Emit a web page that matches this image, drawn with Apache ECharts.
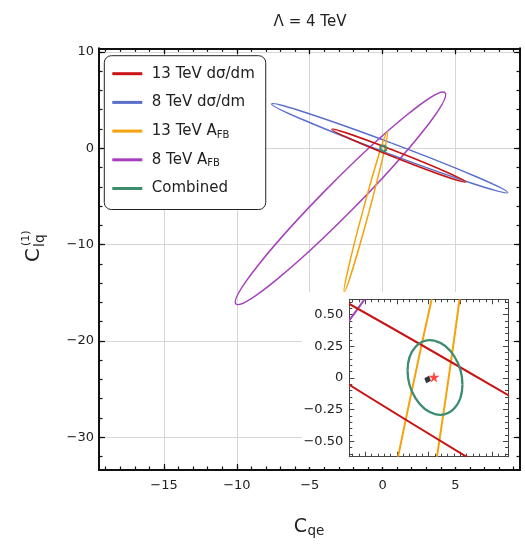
<!DOCTYPE html>
<html><head><meta charset="utf-8">
<script src="https://cdn.jsdelivr.net/npm/echarts@6.0.0/dist/echarts.min.js"></script>
<style>html,body{margin:0;padding:0;background:#fff;}#chart{width:525px;height:549px;}</style>
</head><body><div id="chart"></div>
<script>
// ---- data ----
const seriesNames = ['13 TeV dσ/dm', '8 TeV dσ/dm', '13 TeV AFB', '8 TeV AFB', 'Combined'];
const seriesColors = ['#c81414', '#5a6fcc', '#f5a20f', '#a53fbb', '#3d8c6e'];
// each ellipse: [centre x, centre y, semi-axis u (x, y), conjugate semi-axis v (x, y)] in data units
const ell13Dsdm = [1.105, -0.763, 4.598, -2.736, 0.0774, 0.2975];
const ell8Dsdm = [0.49, 0.0, 8.10, -4.605, 0.133, 0.535];
const ell13Afb = [-1.15, -6.59, 1.483, 8.318, 0.205, -0.083];
const ell8Afb = [-2.89, -5.20, 7.172, 10.971, 0.7955, -1.190];
const ellCombined = [0.05, 0.003, 0.2161, -0.0546, 0.0, 0.2888];
const bestFit = [[0.042, 0.006]];
const smPoint = [[-0.008, -0.013]];
const mainXMajor = [-15, -10, -5, 0, 5];
const mainXMinor = [-19,-18,-17,-16,-15,-14,-13,-12,-11,-10,-9,-8,-7,-6,-5,-4,-3,-2,-1,0,1,2,3,4,5,6,7,8,9];
const mainYMajor = [-30, -20, -10, 0, 10];
const mainYMinor = [-32,-30,-28,-26,-24,-22,-20,-18,-16,-14,-12,-10,-8,-6,-4,-2,0,2,4,6,8,10];
const insetMajor = [-0.5, -0.25, 0, 0.25, 0.5];
const insetMinor = [-0.6,-0.55,-0.5,-0.45,-0.4,-0.35,-0.3,-0.25,-0.2,-0.15,-0.1,-0.05,0,0.05,0.1,0.15,0.2,0.25,0.3,0.35,0.4,0.45,0.5,0.55,0.6];

// ---- rendering ----
const FONT = 'DejaVu Sans';
const minusFmt = v => (v < 0 ? '\u2212' : '') + Math.abs(v);
const insetFmt = v => v === 0 ? '0' : (v < 0 ? '\u2212' : '') + Math.abs(v).toFixed(2);

function mkAxis(grid, pos, min, max, ticks, len, opt) {
  opt = opt || {};
  return {
    type: 'value', gridIndex: grid, position: pos, min: min, max: max, z: opt.z || 0,
    axisLine: { show: !!opt.line, onZero: false, lineStyle: { color: opt.lineColor || '#111', width: opt.lineWidth || 2 } },
    axisTick: { show: true, inside: true, length: len, customValues: ticks, lineStyle: { color: opt.tickColor || '#111', width: opt.tickWidth || 1.2 } },
    axisLabel: opt.labels ? { show: true, customValues: ticks, formatter: opt.fmt, margin: opt.margin, fontSize: 13, color: '#222', fontFamily: FONT } : { show: false },
    splitLine: opt.split ? { show: true, lineStyle: { color: '#d6d6d6', width: 1 } } : { show: false }
  };
}

const XMIN = -19.46, XMAX = 9.43, YMIN = -33.41, YMAX = 10.38;
const IXMIN = -0.625, IXMAX = 0.625, IYMIN = -0.622, IYMAX = 0.62;

const xAxes = [
  mkAxis(0, 'bottom', XMIN, XMAX, mainXMajor, 6, { line: true, labels: true, fmt: minusFmt, margin: 9, split: true }),
  mkAxis(0, 'bottom', XMIN, XMAX, mainXMinor, 3.5, {}),
  mkAxis(0, 'top', XMIN, XMAX, mainXMajor, 6, { line: true }),
  mkAxis(0, 'top', XMIN, XMAX, mainXMinor, 3.5, {}),
  mkAxis(1, 'bottom', IXMIN, IXMAX, insetMajor, 5, { line: true, lineColor: '#444', lineWidth: 1, tickColor: '#444', tickWidth: 1, z: 60 }),
  mkAxis(1, 'bottom', IXMIN, IXMAX, insetMinor, 3, { tickColor: '#444', tickWidth: 1, z: 60 }),
  mkAxis(1, 'top', IXMIN, IXMAX, insetMajor, 5, { line: true, lineColor: '#444', lineWidth: 1, tickColor: '#444', tickWidth: 1, z: 60 }),
  mkAxis(1, 'top', IXMIN, IXMAX, insetMinor, 3, { tickColor: '#444', tickWidth: 1, z: 60 })
];
const yAxes = [
  mkAxis(0, 'left', YMIN, YMAX, mainYMajor, 6, { line: true, labels: true, fmt: minusFmt, margin: 5, split: true }),
  mkAxis(0, 'left', YMIN, YMAX, mainYMinor, 3.5, {}),
  mkAxis(0, 'right', YMIN, YMAX, mainYMajor, 6, { line: true }),
  mkAxis(0, 'right', YMIN, YMAX, mainYMinor, 3.5, {}),
  mkAxis(1, 'left', IYMIN, IYMAX, insetMajor, 5, { line: true, labels: true, fmt: insetFmt, margin: 6, lineColor: '#444', lineWidth: 1, tickColor: '#444', tickWidth: 1, z: 60 }),
  mkAxis(1, 'left', IYMIN, IYMAX, insetMinor, 3, { tickColor: '#444', tickWidth: 1, z: 60 }),
  mkAxis(1, 'right', IYMIN, IYMAX, insetMajor, 5, { line: true, lineColor: '#444', lineWidth: 1, tickColor: '#444', tickWidth: 1, z: 60 }),
  mkAxis(1, 'right', IYMIN, IYMAX, insetMinor, 3, { tickColor: '#444', tickWidth: 1, z: 60 })
];

const K = 0.5523;
function ellipseSeries(name, item, color, width, axisIdx, z) {
  return {
    type: 'custom', name: name, xAxisIndex: axisIdx, yAxisIndex: axisIdx, clip: true, z: z, silent: true,
    dimensions: ['x', 'y', 'ux', 'uy', 'vx', 'vy'], encode: { x: 0, y: 1 },
    itemStyle: { color: color },
    data: [item],
    renderItem: function (params, api) {
      const cx = api.value(0), cy = api.value(1);
      const c = api.coord([cx, cy]);
      const pu = api.coord([cx + api.value(2), cy + api.value(3)]);
      const pv = api.coord([cx + api.value(4), cy + api.value(5)]);
      const U = [pu[0] - c[0], pu[1] - c[1]], V = [pv[0] - c[0], pv[1] - c[1]];
      const P = (a, b) => [c[0] + a * U[0] + b * V[0], c[1] + a * U[1] + b * V[1]];
      const quads = [[1, 0, 0, 1], [0, 1, -1, 0], [-1, 0, 0, -1], [0, -1, 1, 0]];
      const children = quads.map(q => {
        const s = P(q[0], q[1]), c1 = P(q[0] + K * q[2], q[1] + K * q[3]),
              c2 = P(q[2] + K * q[0], q[3] + K * q[1]), e = P(q[2], q[3]);
        return { type: 'bezierCurve',
          shape: { x1: s[0], y1: s[1], cpx1: c1[0], cpy1: c1[1], cpx2: c2[0], cpy2: c2[1], x2: e[0], y2: e[1] },
          style: { stroke: color, lineWidth: width, fill: 'none' } };
      });
      return { type: 'group', children: children };
    }
  };
}

const mainEll = [ell13Dsdm, ell8Dsdm, ell13Afb, ell8Afb, ellCombined];
const series = [];
// main plot
series.push(ellipseSeries(seriesNames[1], ell8Dsdm, seriesColors[1], 1.5, 0, 2));
series.push(ellipseSeries(seriesNames[3], ell8Afb, seriesColors[3], 1.5, 0, 2));
series.push(ellipseSeries(seriesNames[2], ell13Afb, seriesColors[2], 1.5, 0, 2));
series.push(ellipseSeries(seriesNames[0], ell13Dsdm, seriesColors[0], 1.5, 0, 2));
series.push(ellipseSeries(seriesNames[4], ellCombined, seriesColors[4], 2, 0, 2));
// inset
series.push(ellipseSeries(seriesNames[3], ell8Afb, seriesColors[3], 2, 4, 70));
series.push(ellipseSeries(seriesNames[2], ell13Afb, seriesColors[2], 2, 4, 70));
series.push(ellipseSeries(seriesNames[0], ell13Dsdm, seriesColors[0], 2, 4, 70));
series.push(ellipseSeries(seriesNames[4], ellCombined, seriesColors[4], 2.3, 4, 70));
series.push({ type: 'scatter', name: 'SM', xAxisIndex: 4, yAxisIndex: 4, z: 72, silent: true,
  symbol: 'diamond', symbolSize: [7, 8], symbolRotate: -20, itemStyle: { color: '#000' }, data: smPoint });
series.push({ type: 'scatter', name: 'Best fit', xAxisIndex: 4, yAxisIndex: 4, z: 73, silent: true,
  symbol: 'path://M50,0 L61,35 L98,35 L68,57 L79,91 L50,70 L21,91 L32,57 L2,35 L39,35 Z',
  symbolSize: 11, itemStyle: { color: '#ff1a1a' }, data: bestFit });

const legendFmt = n => n.replace('AFB', 'A{s|FB}');

const option = {
  animation: false,
  backgroundColor: '#fff',
  grid: [
    { left: 99, top: 48.3, width: 421, height: 421.7 },
    { left: 349.3, top: 299.3, width: 158.7, height: 157.4 }
  ],
  xAxis: xAxes,
  yAxis: yAxes,
  legend: {
    orient: 'vertical', left: 104.3, top: 55.7, z: 100, selectedMode: false,
    backgroundColor: '#fff', borderColor: '#222', borderWidth: 1, borderRadius: 7,
    padding: [9, 11, 12, 8], itemWidth: 30, itemHeight: 3, itemGap: 10.7,
    data: seriesNames.map((n, i) => ({ name: n, icon: 'rect', itemStyle: { color: seriesColors[i] } })),
    formatter: legendFmt,
    textStyle: { fontSize: 15, fontFamily: FONT, color: '#222', lineHeight: 18, padding: [0, 0, 0, 4.5],
      rich: { s: { fontSize: 10, fontFamily: FONT, color: '#222', lineHeight: 18, verticalAlign: 'bottom', padding: [0, 0, 0, 0] } } }
  },
  graphic: { elements: [
    { type: 'rect', z: 50, silent: true, shape: { x: 302, y: 292, width: 210, height: 175 }, style: { fill: '#fff' } },
    { type: 'text', z: 100, x: 310, y: 22, style: { text: 'Λ = 4 TeV', fontSize: 15, fontFamily: FONT, fill: '#222', align: 'center', verticalAlign: 'middle' } },
    { type: 'text', z: 100, x: 300.5, y: 527.5, style: { text: 'C', fontSize: 19, fontFamily: FONT, fill: '#222', align: 'center', verticalAlign: 'middle' } },
    { type: 'text', z: 100, x: 307.5, y: 531, style: { text: 'qe', fontSize: 13.5, fontFamily: FONT, fill: '#222', align: 'left', verticalAlign: 'middle' } },
    { type: 'group', z: 100, x: 34, y: 255, rotation: Math.PI / 2, children: [
      { type: 'text', x: 0, y: 0, style: { text: 'C', fontSize: 20, fontFamily: FONT, fill: '#222', align: 'center', verticalAlign: 'middle' } },
      { type: 'text', x: 8, y: 6, style: { text: 'lq', fontSize: 14, fontFamily: FONT, fill: '#222', align: 'left', verticalAlign: 'middle' } },
      { type: 'text', x: 9, y: -8, style: { text: '(1)', fontSize: 11, fontFamily: FONT, fill: '#222', align: 'left', verticalAlign: 'middle' } }
    ] }
  ] },
  series: series
};

const chart = echarts.init(document.getElementById('chart'), null, { renderer: 'canvas' });
chart.setOption(option);
</script>
</body></html>
